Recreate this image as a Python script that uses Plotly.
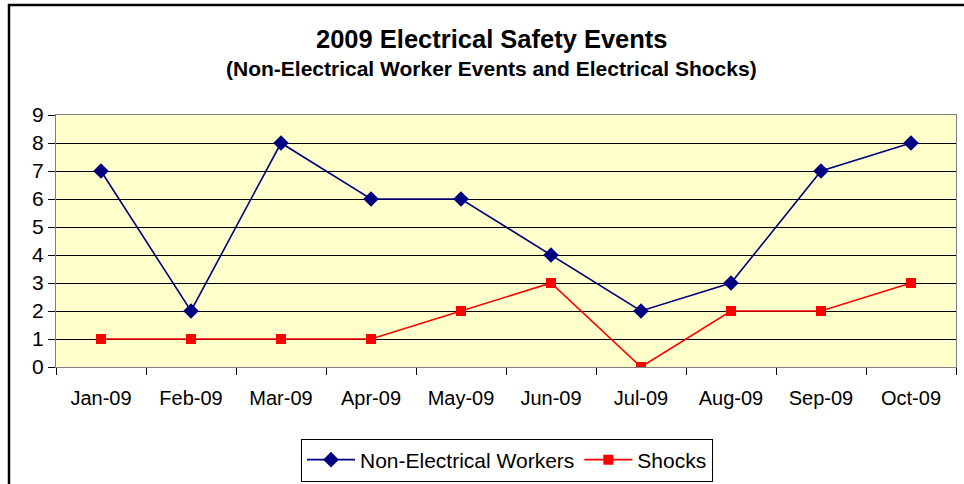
import plotly.graph_objects as go

months = ["Jan-09", "Feb-09", "Mar-09", "Apr-09", "May-09", "Jun-09", "Jul-09", "Aug-09", "Sep-09", "Oct-09"]
non_electrical = [7, 2, 8, 6, 6, 4, 2, 3, 7, 8]
shocks = [1, 1, 1, 1, 2, 3, 0, 2, 2, 3]
y_ticks = [0, 1, 2, 3, 4, 5, 6, 7, 8, 9]

W, H = 964, 484
L, R, T, B = 56, 8, 115, 117
pw, ph = W - L - R, H - T - B

def px(x):
    return (x - L) / pw

def py(y):
    return (H - B - y) / ph

FONT = "Liberation Sans, Arial, sans-serif"

fig = go.Figure()
fig.add_trace(go.Scatter(
    x=months, y=non_electrical, mode="lines+markers", name="Non-Electrical Workers",
    line=dict(color="#000080", width=1.6),
    marker=dict(symbol="diamond", size=12, color="#000080"),
))
fig.add_trace(go.Scatter(
    x=months, y=shocks, mode="lines+markers", name="Shocks",
    line=dict(color="#FF0000", width=1.6),
    marker=dict(symbol="square", size=10, color="#FF0000"),
))

fig.update_layout(
    width=W, height=H,
    margin=dict(l=L, r=R, t=T, b=B, pad=0, autoexpand=False),
    paper_bgcolor="white",
    plot_bgcolor="#FFFFCC",
    font=dict(family=FONT, size=20, color="black"),
    showlegend=True,
    legend=dict(
        orientation="h", x=px(507), xanchor="center", y=py(460), yanchor="middle",
        bordercolor="black", borderwidth=1, bgcolor="white",
        font=dict(family=FONT, size=21, color="black"),
        itemwidth=48, tracegroupgap=0,
    ),
    xaxis=dict(
        type="category", range=[-0.5, 9.5],
        showline=True, linecolor="#808080", linewidth=1, mirror=True,
        ticks="outside", tickson="boundaries", ticklen=7, tickcolor="black",
        showgrid=False, zeroline=False, automargin=False,
        tickfont=dict(family=FONT, size=20, color="black"),
        ticklabelstandoff=13,
    ),
    yaxis=dict(
        range=[0, 9], tickvals=y_ticks,
        showline=True, linecolor="#808080", linewidth=1, mirror=True,
        ticks="outside", ticklen=7, tickcolor="black",
        showgrid=True, gridcolor="black", gridwidth=1, zeroline=False, automargin=False,
        tickfont=dict(family=FONT, size=21, color="black"),
    ),
    shapes=[dict(
        type="rect", xref="paper", yref="paper",
        x0=px(9), x1=px(1000), y0=py(520), y1=py(5),
        line=dict(color="black", width=2.5), fillcolor="rgba(0,0,0,0)", layer="above",
    )],
    annotations=[
        dict(text="<b>2009 Electrical Safety Events</b>", xref="paper", yref="paper",
             x=px(492), y=py(39), xanchor="center", yanchor="middle", showarrow=False,
             font=dict(family=FONT, size=25.5, color="black")),
        dict(text="<b>(Non-Electrical Worker Events and Electrical Shocks)</b>", xref="paper", yref="paper",
             x=px(491), y=py(68), xanchor="center", yanchor="middle", showarrow=False,
             font=dict(family=FONT, size=21, color="black")),
    ],
)

fig.write_html("out.html", config={"displayModeBar": False},
               post_script="document.body.style.margin='0';document.body.style.overflow='hidden';")
